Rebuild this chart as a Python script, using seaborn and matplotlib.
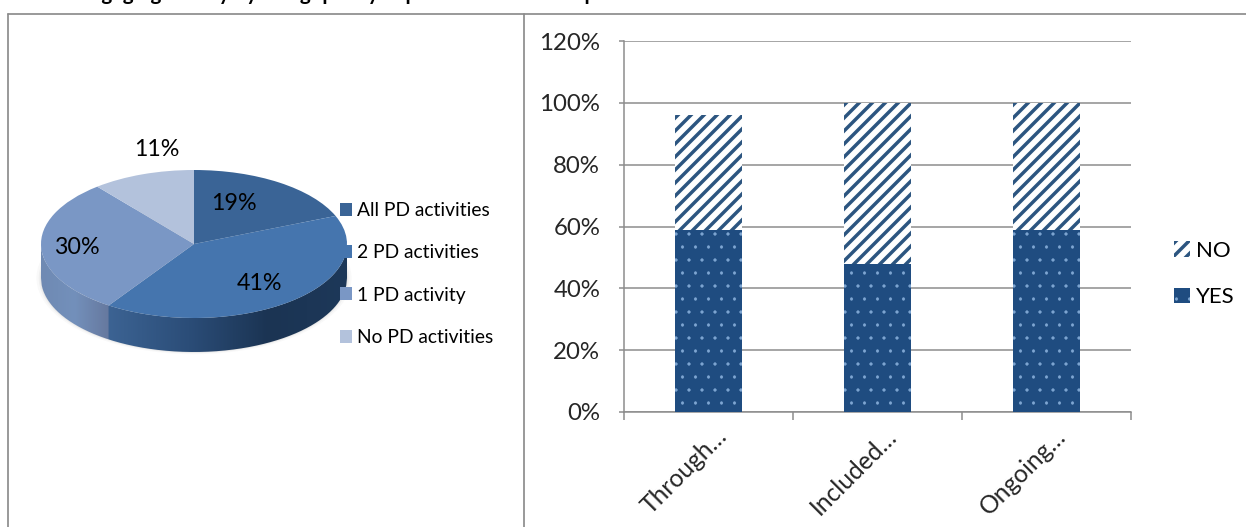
import numpy as np
import pandas as pd
import matplotlib
matplotlib.use("Agg")
import matplotlib.pyplot as plt
from matplotlib.lines import Line2D
from matplotlib.patches import Ellipse, Patch, PathPatch
from matplotlib.path import Path
from matplotlib.transforms import ScaledTranslation
import seaborn as sns

# pie values
pie_labels = ["All PD activities", "2 PD activities", "1 PD activity", "No PD activities"]
pie_values = [19, 41, 30, 11]
pie_colors = ["#3a6496", "#4575ae", "#7a97c5", "#b3c2dc"]

# bar values
items = ["Through\u2026", "Included\u2026", "Ongoing\u2026"]
yes_values = [59, 48, 59]
no_values = [37, 52, 41]

W, H, DPI = 1246, 527, 78
sns.set_theme(style="white")
plt.rcParams["font.family"] = ["Lato", "DejaVu Sans"]
plt.rcParams["text.color"] = "black"

fig = plt.figure(figsize=(W / DPI, H / DPI), dpi=DPI)

# turn pixel box of the reference into figure coords
def px_axes(left, top, right, bottom):
    return fig.add_axes([left / W, 1 - bottom / H, (right - left) / W, (bottom - top) / H])

# table frame
GRAY = "#8c8c8c"
for xs, ys in [((8, 8), (14, 527)), ((8, 1246), (14, 14)), ((524, 524), (14, 527))]:
    fig.add_artist(Line2D([x / W for x in xs], [1 - y / H for y in ys], color=GRAY, lw=1.6))

# heading is cut by the top of the image
fig.text(78 / W, 1.0, "Engaging faculty by using quality in professional development activities",
         ha="left", va="baseline", fontsize=19, fontweight="bold")

# ---- pie, squashed with a wall under it ----
RX, RY, DEPTH = 153, 74, 34
cx, cy = 194, 244
ax_pie = px_axes(cx - RX * 1.2, cy - RY * 1.2, cx + RX * 1.2, cy + RY * 1.2 + DEPTH + 10)
ax_pie.set_zorder(1)

# soft shadow
for grow, a in [(1.03, 0.03), (1.015, 0.05), (1.005, 0.08)]:
    ax_pie.add_patch(Ellipse((0, -DEPTH / RY), 2 * grow, 2 * grow, color="#555555", alpha=a, lw=0))

wedges, _ = ax_pie.pie(pie_values, colors=pie_colors, startangle=90, counterclock=False,
                       radius=1, wedgeprops=dict(linewidth=0), normalize=True)
for w in wedges:
    w.set_zorder(3)

# wall colours follow the slice angle, the image is clipped to the rim
split = np.cos(np.radians(90 - 360 * (pie_values[0] + pie_values[1]) / sum(pie_values)))
xs = np.linspace(-1, 1, 400)
n_left = int((split + 1) / 2 * 400)
left_cols = sns.blend_palette(["#6f8ab3", "#7390bb", "#66799f"], n_left)
right_cols = sns.blend_palette(["#3c6393", "#2b4d78", "#1b3453", "#1d3859"], 400 - n_left)
grad = np.array(list(left_cols) + list(right_cols))[None, :, :]
lower = -np.sqrt(1 - xs ** 2)
rim = np.vstack([np.column_stack([xs, lower]), np.column_stack([xs[::-1], lower[::-1] - DEPTH / RY])])
wall = ax_pie.imshow(grad, extent=(-1, 1, -1 - DEPTH / RY, 0), aspect="auto", zorder=2)
wall.set_clip_path(PathPatch(Path(rim), transform=ax_pie.transData))

ax_pie.set_aspect("auto")
ax_pie.set_xlim(-1.2, 1.2)
ax_pie.set_ylim(-1.2 - (DEPTH + 10) / RY, 1.2)
ax_pie.axis("off")

# percent labels
for (px, py), v in zip([(234, 204), (259, 283), (77, 248), (157, 149)], pie_values):
    fig.text(px / W, 1 - py / H, f"{v}%", ha="center", va="center", fontsize=21.5, zorder=5)

# pie legend sits over the pie edge
pie_handles = [Patch(facecolor=c, edgecolor="none") for c in pie_colors]
leg = fig.legend(pie_handles, pie_labels, loc="center left", bbox_to_anchor=(340 / W, 1 - 274 / H),
                 frameon=False, fontsize=17.8, handlelength=0.62, handleheight=0.65, handletextpad=0.26,
                 labelspacing=1.31, borderpad=0, borderaxespad=0)
leg.set_zorder(6)

# ---- stacked bars ----
ax_bar = px_axes(624, 41, 1131, 412)
df = pd.DataFrame({"item": items, "yes": yes_values, "no": no_values})
df["total"] = df["yes"] + df["no"]

plt.rcParams["hatch.linewidth"] = 3.2
sns.barplot(data=df, x="item", y="total", color="white", edgecolor="#2c5580", hatch="//",
            linewidth=0, width=0.4, saturation=1, ax=ax_bar, zorder=3)
plt.rcParams["hatch.linewidth"] = 0.5
sns.barplot(data=df, x="item", y="yes", color="#1f4c80", edgecolor="#7ea6d2", hatch=".",
            linewidth=0, width=0.4, saturation=1, ax=ax_bar, zorder=4)

ax_bar.set_ylim(0, 120)
ax_bar.set_xlim(-0.5, 2.5)
ax_bar.set_xlabel("")
ax_bar.set_ylabel("")
ax_bar.set_yticks(range(0, 121, 20))
ax_bar.set_yticklabels([f"{v}%" for v in range(0, 121, 20)], fontsize=22.2)
ax_bar.grid(axis="y", color=GRAY, lw=1.4, zorder=0)
ax_bar.set_axisbelow(True)
for side in ["top", "right"]:
    ax_bar.spines[side].set_visible(False)
for side in ["left", "bottom"]:
    ax_bar.spines[side].set_color(GRAY)
    ax_bar.spines[side].set_linewidth(1.4)
ax_bar.tick_params(axis="y", length=5, width=1.4, color=GRAY, pad=17, left=True)
ax_bar.set_xticks(range(3))
ax_bar.set_xticklabels(items, rotation=45, ha="right", rotation_mode="anchor", fontsize=22.7)
ax_bar.set_xticks([-0.5, 0.5, 1.5, 2.5], minor=True)
ax_bar.tick_params(axis="x", which="major", length=0, pad=14)
ax_bar.tick_params(axis="x", which="minor", length=7, width=1.4, color=GRAY, bottom=True)
# nudge the slanted labels to the right and up
for lab in ax_bar.get_xticklabels():
    lab.set_transform(lab.get_transform() + ScaledTranslation(7 / DPI, 3 / DPI, fig.dpi_scale_trans))

bar_handles = [Patch(facecolor="white", edgecolor="#2c5580", hatch="//", lw=0),
               Patch(facecolor="#1f4c80", edgecolor="#7ea6d2", hatch=".", lw=0)]
leg2 = fig.legend(bar_handles, ["NO", "YES"], loc="center left", bbox_to_anchor=(1174 / W, 1 - 274 / H),
                  frameon=False, fontsize=20.5, handlelength=0.72, handleheight=0.72, handletextpad=0.28,
                  labelspacing=1.2, borderpad=0, borderaxespad=0)
leg2.legend_handles[0].set_hatch_linewidth(3.2)

fig.savefig("out.png", dpi=DPI)
